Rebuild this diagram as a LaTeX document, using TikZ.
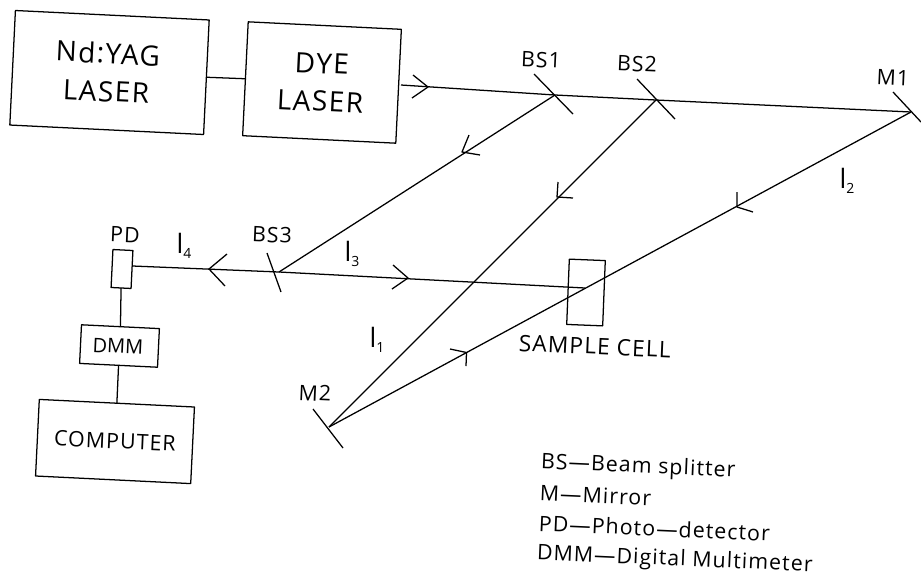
\documentclass[tikz,border=0pt]{standalone}
\usepackage{fontspec}
\setmainfont[LetterSpace=5]{Open Sans}
\newfontfamily\plainf{Open Sans}
\newcommand{\beamlbl}[1]{{\plainf\fontsize{20}{20}\selectfont l\raisebox{-3.5pt}{\fontsize{10.5}{11}\selectfont #1}}}
\begin{document}
\begin{tikzpicture}[x=0.75pt,y=-0.75pt,line join=round,
  every node/.style={inner sep=0pt,outer sep=0pt},
  unit/.style={draw=black,line width=0.95pt,rotate=-2.8},
  conn/.style={draw=black,line width=0.95pt},
  big/.style={font=\fontsize{21}{28.5}\selectfont,rotate=-2.8,align=center,text=black},
  med/.style={font=\fontsize{16}{18}\selectfont,rotate=-2.5,text=black},
  sub/.style={text=black}]
\useasboundingbox (0,0) rectangle (921,576);
% instruments
\node[unit,minimum width=145.5pt,minimum height=86pt] (yag) at (109.5,72.5) {};
\node[unit,minimum width=115pt,minimum height=85.5pt] (dye) at (322,82.5) {};
\node[unit,minimum width=15pt,minimum height=28.5pt] (pd) at (122,269) {};
\node[unit,minimum width=58.5pt,minimum height=29pt] (dmm) at (119.5,346) {};
\node[unit,minimum width=116.5pt,minimum height=57.5pt] (comp) at (115,441.5) {};
\node[unit,rotate=0.5,minimum width=27pt,minimum height=49pt] (cell) at (586,292.5) {};
% texts in instruments
\node[big] (yagt) at (107,72) {Nd:YAG\\LASER};
\node[big] (dyet) at (321,82.5) {DYE\\LASER};
\node[med,font={\plainf\fontsize{15}{18}\selectfont}] (dmmt) at (118,346) {DMM};
\node[med] (compt) at (115,441) {COMPUTER};
% optical points
\coordinate (dyeout) at (401,85);
\coordinate (bs1) at (555,95);
\coordinate (bs2) at (656,100);
\coordinate (m1) at (911,112);
\coordinate (bs3) at (279,272);
\coordinate (m2) at (329,427);
\coordinate (pdin) at (132.5,266);
\coordinate (cellin) at (585,288);
% links
\draw[conn] (yag.east) -- (dye.west);
\draw[conn] (pd.south) -- (dmm.north);
\draw[conn] (dmm.south) -- (comp.north);
% beams
\draw[conn] (dyeout) -- (bs1) -- (bs2) -- (m1);
\draw[conn] (bs1) -- (bs3);
\draw[conn] (bs2) -- (m2);
\draw[conn] (m1) -- (m2);
\draw[conn] (pdin) -- (bs3) -- (cellin);
% splitters and mirrors
\draw[conn] (534,74) -- (573,114);
\draw[conn] (637,79) -- (675,119);
\draw[conn] (893,92) -- (921,122);
\draw[conn] (267,253) -- (281,292);
\draw[conn] (313,409) -- (343,448);
% arrow barbs
\draw[conn] (413,75) -- (428,87) -- (412,98);
\draw[conn] (469,135) -- (462,152) -- (480,155);
\draw[conn] (558,182) -- (557,197) -- (573,198);
\draw[conn] (737,192) -- (737,207) -- (753,212);
\draw[conn] (450,349) -- (466.5,352.5) -- (466,366);
\draw[conn] (227,254) -- (209,269) -- (225,286);
\draw[conn] (393,265) -- (408,278) -- (392,289);
% labels
\node[med] (lbs1) at (541,60) {BS1};
\node[med] (lbs2) at (637,64) {BS2};
\node[med] (lm1) at (893,78) {M1};
\node[med] (lpd) at (125,235) {PD};
\node[med] (lbs3) at (272,235) {BS3};
\node[med] (lm2) at (315,393) {M2};
\node[sub] (li4) at (184,246) {\beamlbl{4}};
\node[sub] (li3) at (352,254) {\beamlbl{3}};
\node[sub] (li1) at (377,340) {\beamlbl{1}};
\node[sub] (li2) at (847,181) {\beamlbl{2}};
\node[med,anchor=west,font=\fontsize{17}{18}\selectfont] (lcell) at (519,343) {SAMPLE CELL};
% legend
\node[med,anchor=west] (k1) at (541,463) {BS—Beam splitter};
\node[med,anchor=west] (k2) at (540,493) {M—Mirror};
\node[med,anchor=west] (k3) at (539,523) {PD—Photo—detector};
\node[med,anchor=west] (k4) at (537,554) {DMM—Digital Multimeter};
\end{tikzpicture}
\end{document}
